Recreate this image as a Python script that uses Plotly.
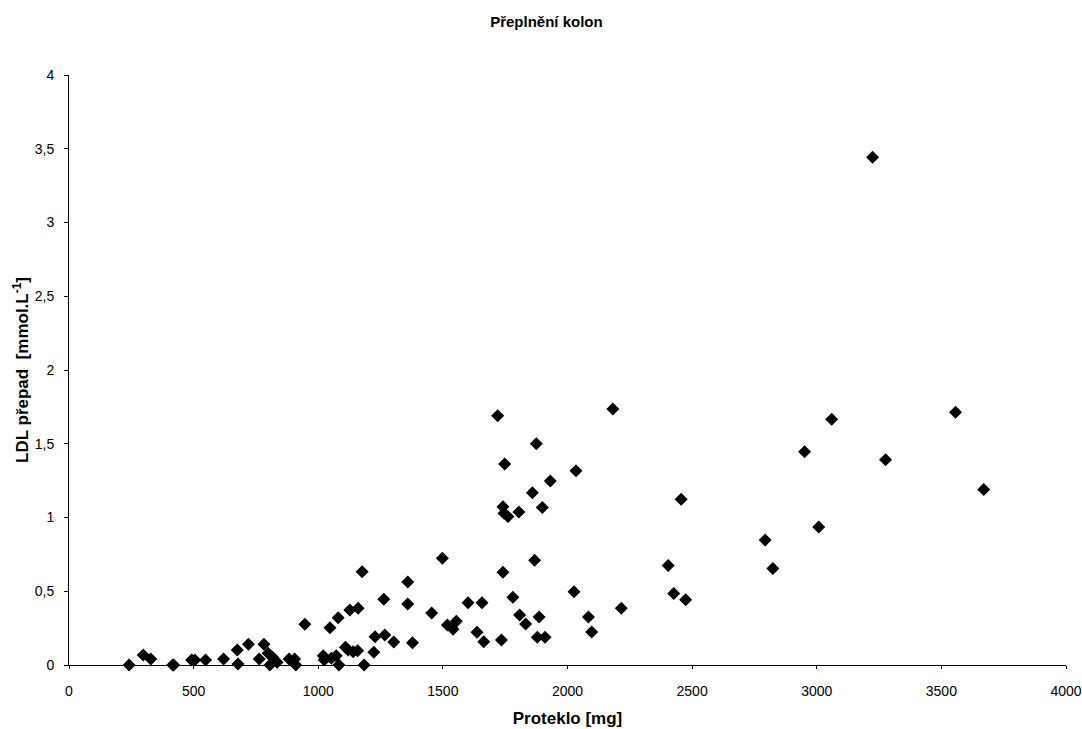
import plotly.graph_objects as go

proteklo_mg = [241, 298, 328, 416, 420, 492, 505, 548, 620, 675, 678, 720, 763, 782, 799, 806, 817, 835,
               883, 905, 910, 946, 1020, 1024, 1047, 1053, 1072, 1080, 1083, 1109, 1127, 1120, 1140, 1158,
               1160, 1176, 1184, 1223, 1228, 1267, 1263, 1303, 1359, 1359, 1378, 1455, 1498, 1518, 1541,
               1554, 1601, 1637, 1657, 1664, 1720, 1735, 1741, 1741, 1745, 1748, 1761, 1781, 1805, 1808,
               1832, 1859, 1868, 1875, 1879, 1886, 1899, 1910, 1931, 2026, 2034, 2084, 2097, 2182, 2216,
               2404, 2426, 2456, 2474, 2793, 2824, 2951, 3008, 3060, 3224, 3276, 3557, 3670]
ldl_prepad = [0.0, 0.068, 0.041, 0.0, 0.0, 0.034, 0.034, 0.034, 0.041, 0.102, 0.007, 0.140, 0.041, 0.140,
              0.079, 0.0, 0.052, 0.018, 0.041, 0.041, 0.0, 0.276, 0.063, 0.034, 0.253, 0.045, 0.063, 0.321,
              0.0, 0.120, 0.373, 0.102, 0.090, 0.097, 0.384, 0.633, 0.0, 0.086, 0.192, 0.203, 0.445, 0.156,
              0.563, 0.414, 0.151, 0.353, 0.723, 0.271, 0.242, 0.296, 0.422, 0.222, 0.422, 0.158, 1.69,
              0.169, 1.073, 0.628, 1.028, 1.363, 1.006, 0.459, 1.037, 0.339, 0.278, 1.168, 0.710, 1.50,
              0.188, 0.325, 1.067, 0.188, 1.247, 0.497, 1.317, 0.325, 0.224, 1.735, 0.384, 0.674, 0.484,
              1.123, 0.443, 0.847, 0.655, 1.446, 0.936, 1.666, 3.442, 1.392, 1.713, 1.189]

x_ticks = [0, 500, 1000, 1500, 2000, 2500, 3000, 3500, 4000]
x_tick_labels = ["0", "500", "1000", "1500", "2000", "2500", "3000", "3500", "4000"]
y_ticks = [0, 0.5, 1, 1.5, 2, 2.5, 3, 3.5, 4]
y_tick_labels = ["0", "0,5", "1", "1,5", "2", "2,5", "3", "3,5", "4"]

FONT = "Liberation Sans, Arial, sans-serif"

fig = go.Figure()
fig.add_trace(go.Scatter(
    x=proteklo_mg, y=ldl_prepad, mode="markers",
    marker=dict(symbol="diamond", size=10, color="black", line=dict(width=0)),
    showlegend=False, cliponaxis=False,
))

fig.update_layout(
    width=1082, height=729,
    paper_bgcolor="white", plot_bgcolor="white",
    margin=dict(l=69, r=16, t=75, b=64),
    font=dict(family=FONT, color="black", size=14),
    title=dict(text="<b>Přeplnění kolon</b>", x=0.505, xanchor="center", y=0.970, yanchor="middle",
               font=dict(size=15, family=FONT), automargin=False),
)
fig.update_xaxes(
    range=[0, 4000], tickvals=x_ticks, ticktext=x_tick_labels, automargin=False,
    showgrid=False, zeroline=False, showline=True, linecolor="black", linewidth=1,
    ticks="outside", ticklen=3, tickcolor="black", ticklabelstandoff=10,
    title=dict(text="<b>Proteklo [mg]</b>", font=dict(size=17, family=FONT), standoff=14),
    tickfont=dict(size=14),
)
fig.update_yaxes(
    range=[0, 4], tickvals=y_ticks, ticktext=y_tick_labels, automargin=False,
    showgrid=False, zeroline=False, showline=True, linecolor="black", linewidth=1,
    ticks="outside", ticklen=4, tickcolor="black", ticklabelstandoff=7,
    title=dict(text="<b>LDL přepad  [mmol.L<sup>-1</sup>]</b>", font=dict(size=17, family=FONT), standoff=1),
    tickfont=dict(size=14),
)

fig.write_html(
    "out.html",
    config={"displayModeBar": False},
    post_script="document.body.style.margin='0';document.body.style.overflow='hidden';",
)
